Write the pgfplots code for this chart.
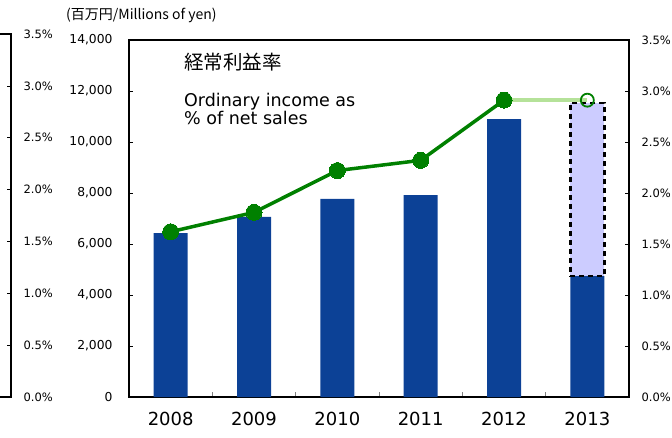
\documentclass[border=0pt]{standalone}
\usepackage{fontspec}
\setmainfont{DejaVu Sans}
\newfontfamily\cjk{Noto Sans CJK JP}
\usepackage{pgfplots}
\pgfplotsset{compat=1.18}
\definecolor{barblue}{RGB}{12,65,150}
\definecolor{lgreen}{RGB}{0,128,0}
\definecolor{palegreen}{RGB}{181,226,153}
\definecolor{lav}{RGB}{204,204,255}

\pgfplotsset{
  base/.style={
    scale only axis,
    /pgf/number format/assume math mode=true,
    tick align=inside,
    major tick length=4pt,
    axis line style={line width=1.6pt},
    every tick/.style={black, line width=0.6pt},
  },
  pct/.style={
    ymin=0, ymax=3.5,
    ytick={0,0.5,...,3.5},
    yticklabel={\pgfmathprintnumber[fixed,fixed zerofill,precision=1]{\tick}\%},
    yticklabel style={font=\fontsize{11.5}{12}\selectfont, anchor=west},
  },
}

\begin{document}
\begin{tikzpicture}[x=1pt,y=1pt]
\useasboundingbox (0,0) rectangle (672,437);
\clip (0,0) rectangle (672,437);

% cut-off axis of the neighbouring chart
\begin{axis}[base, pct,
  at={(-60pt,40pt)}, anchor=south west,
  width=71pt, height=363pt,
  xmin=0, xmax=1, xtick=\empty,
  ytick pos=right, yticklabel pos=right,
  yticklabel style={xshift=9pt},
]
\addplot[draw=none] coordinates {(0.5,1)};
\end{axis}

% bars, millions of yen
\begin{axis}[base,
  at={(129pt,40pt)}, anchor=south west,
  width=500pt, height=357pt,
  xmin=0.5, xmax=6.5, ymin=0, ymax=14000,
  xtick={1,2,3,4,5,6},
  xticklabels={2008,2009,2010,2011,2012,2013},
  xtick pos=bottom, ytick pos=left,
  major x tick style={draw=none},
  minor xtick={1.5,2.5,3.5,4.5,5.5},
  minor tick length=5pt,
  minor x tick style={gray, line width=0.6pt},
  xticklabel style={font=\fontsize{18}{20}\selectfont, yshift=-12pt},
  ytick={0,2000,...,14000},
  scaled y ticks=false,
  yticklabel style={font=\fontsize{12.3}{14}\selectfont, /pgf/number format/1000 sep={,}, xshift=-13pt},
]
\addplot[ybar, bar width=34pt, fill=barblue, draw=none] coordinates {
  (1,6425) (2,7060) (3,7765) (4,7920) (5,10900) (6,4745)
};
% 2013 forecast part
\addplot[fill=lav, draw=black, line width=2.6pt, dash pattern=on 5pt off 4pt] coordinates {
  (5.796,4745) (6.204,4745) (6.204,11530) (5.796,11530)
} -- cycle;
\end{axis}

% ratio, percent
\begin{axis}[base, pct,
  at={(129pt,40pt)}, anchor=south west,
  width=500pt, height=357pt,
  xmin=0.5, xmax=6.5,
  axis x line=none, axis y line*=right,
  yticklabel style={xshift=9pt},
]
\addplot[palegreen, line width=3.5pt] coordinates {(5,2.91) (6,2.91)};
\addplot[lgreen, line width=3.5pt, mark=*, mark size=8pt, mark options={fill=lgreen, draw=lgreen, line width=0pt}] coordinates {
  (1,1.62) (2,1.81) (3,2.22) (4,2.32) (5,2.91)
};
\addplot[draw=none, mark=o, mark size=6.5pt, mark options={draw=lgreen, line width=1.8pt}] coordinates {(6,2.91)};
\end{axis}

\node[anchor=base west, inner sep=0, font=\cjk\fontsize{14}{15}\selectfont] at (66,417) {(百万円/Millions of yen)};
\node[anchor=base west, inner sep=0, font=\cjk\fontsize{19.5}{22}\selectfont] at (184,367) {経常利益率};
\node[anchor=base west, inner sep=0, font=\fontsize{17.5}{18}\selectfont] at (184,330) {Ordinary income as};
\node[anchor=base west, inner sep=0, font=\fontsize{17.5}{18}\selectfont] at (184,312) {\% of net sales};
\end{tikzpicture}
\end{document}
